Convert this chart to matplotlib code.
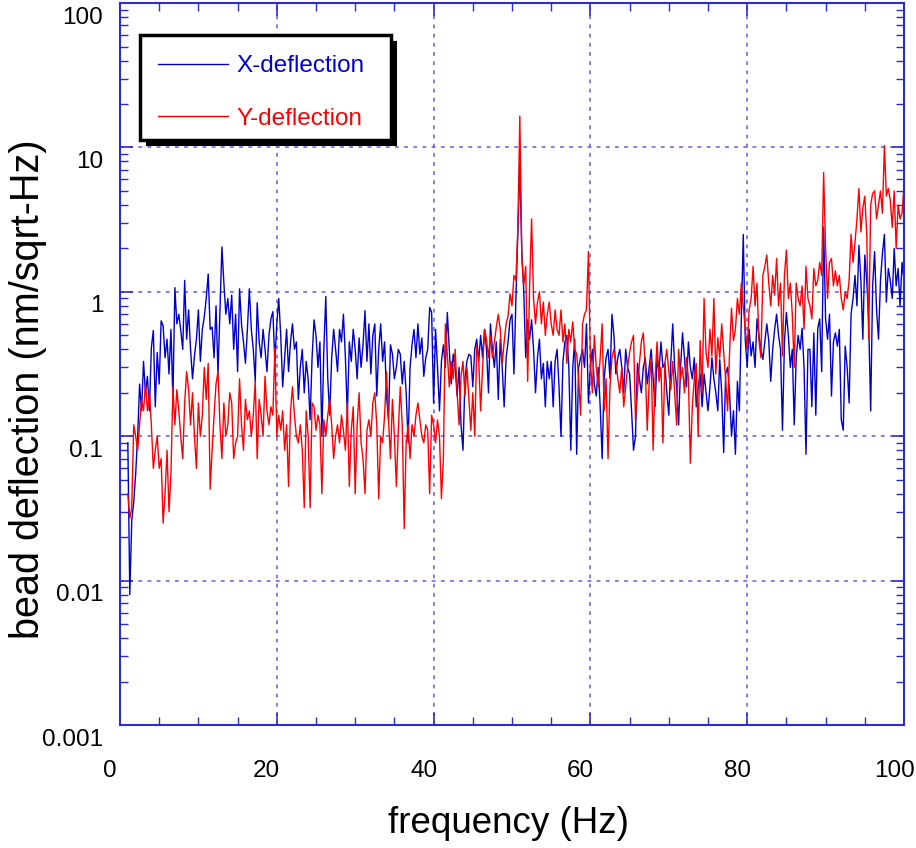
import numpy as np
import matplotlib
matplotlib.use("Agg")
import matplotlib.pyplot as plt
from matplotlib.patches import Rectangle
from matplotlib.transforms import ScaledTranslation
from matplotlib.ticker import FixedLocator, FixedFormatter, LogLocator, MultipleLocator, NullFormatter

# spectrum sampled every 0.25 Hz from 1 to 100 Hz
freq = np.arange(1.0, 100.001, 0.25)

# X-deflection (nm/sqrt-Hz), one row = 5 Hz
x_defl = [
    0.09, 0.008, 0.026, 0.035, 0.055, 0.10, 0.23, 0.15, 0.33, 0.20, 0.26, 0.15, 0.41, 0.54, 0.16, 0.38, 0.23, 0.63, 0.58, 0.35,
    0.47, 0.27, 0.55, 0.18, 1.07, 0.60, 0.70, 0.54, 0.40, 1.20, 0.47, 0.75, 0.40, 0.25, 0.36, 0.47, 0.75, 0.33, 0.55, 0.67,
    0.90, 1.33, 0.55, 0.57, 0.35, 0.80, 0.27, 0.73, 2.05, 1.15, 0.70, 0.90, 0.60, 0.95, 0.40, 0.70, 0.28, 1.05, 0.60, 0.45,
    0.32, 0.55, 1.05, 0.55, 0.40, 0.24, 0.84, 0.45, 0.35, 0.55, 0.40, 0.28, 0.50, 0.65, 0.73, 0.33, 0.60, 0.90, 0.50, 0.22,
    0.35, 0.55, 0.28, 0.45, 0.60, 0.40, 0.45, 0.18, 0.30, 0.40, 0.20, 0.33, 0.25, 0.13, 0.35, 0.64, 0.50, 0.30, 0.45, 0.10,
    0.40, 0.93, 0.25, 0.14, 0.35, 0.55, 0.40, 0.28, 0.55, 0.45, 0.70, 0.35, 0.14, 0.45, 0.33, 0.55, 0.40, 0.25, 0.48, 0.30,
    0.43, 0.74, 0.33, 0.60, 0.27, 0.50, 0.60, 0.19, 0.40, 0.60, 0.33, 0.45, 0.19, 0.13, 0.43, 0.37, 0.25, 0.30, 0.40, 0.37,
    0.23, 0.33, 0.20, 0.09, 0.30, 0.43, 0.55, 0.35, 0.60, 0.37, 0.48, 0.26, 0.35, 0.40, 0.78, 0.72, 0.17, 0.55, 0.30, 0.15,
    0.33, 0.43, 0.30, 0.72, 0.40, 0.23, 0.37, 0.30, 0.19, 0.30, 0.12, 0.08, 0.25, 0.33, 0.37, 0.36, 0.22, 0.40, 0.47, 0.33,
    0.50, 0.35, 0.55, 0.40, 0.20, 0.60, 0.40, 0.30, 0.45, 0.18, 0.47, 0.30, 0.16, 0.35, 0.45, 0.64, 0.70, 0.27, 0.90, 2.6,
    7.7, 1.9, 1.0, 0.35, 0.64, 0.47, 0.64, 0.40, 0.20, 0.35, 0.47, 0.25, 0.32, 0.16, 0.33, 0.25, 0.33, 0.16, 0.33, 0.40,
    0.22, 0.10, 0.33, 0.45, 0.50, 0.30, 0.08, 0.30, 0.47, 0.075, 0.30, 0.35, 0.40, 0.30, 0.60, 0.17, 0.30, 0.40, 0.23, 0.19,
    0.30, 0.16, 0.07, 0.25, 0.35, 0.40, 0.25, 0.70, 0.50, 0.27, 0.35, 0.40, 0.30, 0.20, 0.40, 0.30, 0.27, 0.15, 0.08, 0.10,
    0.32, 0.25, 0.20, 0.30, 0.35, 0.23, 0.30, 0.40, 0.25, 0.16, 0.35, 0.28, 0.45, 0.30, 0.32, 0.20, 0.14, 0.32, 0.60, 0.30,
    0.22, 0.12, 0.30, 0.52, 0.35, 0.22, 0.45, 0.30, 0.25, 0.35, 0.16, 0.22, 0.27, 0.16, 0.27, 0.20, 0.15, 0.22, 0.35, 0.25,
    0.20, 0.15, 0.34, 0.20, 0.077, 0.27, 0.30, 0.20, 0.10, 0.15, 0.075, 0.24, 0.15, 0.65, 2.5, 0.47, 0.30, 0.55, 0.36, 0.45,
    0.30, 0.65, 0.50, 0.40, 0.34, 0.45, 0.60, 0.46, 0.24, 0.40, 0.55, 0.70, 0.50, 0.40, 0.11, 0.45, 0.72, 0.50, 0.30, 0.40,
    0.12, 0.35, 0.50, 0.40, 0.56, 0.30, 0.075, 0.40, 0.40, 0.16, 0.52, 0.14, 0.56, 0.65, 0.28, 2.8, 0.65, 0.47, 0.70, 0.19,
    0.45, 0.52, 0.42, 0.55, 0.13, 0.11, 0.42, 0.30, 0.17, 0.70, 0.90, 1.3, 0.80, 2.1, 1.2, 0.47, 1.8, 1.2, 0.60, 0.15,
    1.1, 1.9, 0.75, 0.47, 1.2, 1.85, 2.5, 0.85, 1.45, 1.2, 0.90, 2.0, 1.1, 1.45, 0.80, 1.6, 1.2,
]

# Y-deflection (nm/sqrt-Hz)
y_defl = [
    0.04, 0.027, 0.032, 0.12, 0.10, 0.08, 0.12, 0.18, 0.15, 0.23, 0.15, 0.20, 0.12, 0.06, 0.08, 0.10, 0.06, 0.07, 0.025, 0.04,
    0.08, 0.03, 0.055, 0.22, 0.12, 0.21, 0.15, 0.10, 0.07, 0.17, 0.28, 0.21, 0.12, 0.20, 0.10, 0.06, 0.17, 0.10, 0.14, 0.30,
    0.18, 0.32, 0.043, 0.08, 0.14, 0.23, 0.28, 0.12, 0.07, 0.17, 0.10, 0.12, 0.20, 0.17, 0.07, 0.09, 0.10, 0.25, 0.12, 0.08,
    0.18, 0.13, 0.15, 0.10, 0.14, 0.24, 0.07, 0.18, 0.14, 0.10, 0.26, 0.15, 0.12, 0.16, 0.14, 0.41, 0.10, 0.14, 0.11, 0.15,
    0.08, 0.12, 0.045, 0.15, 0.22, 0.14, 0.10, 0.09, 0.12, 0.08, 0.032, 0.15, 0.10, 0.032, 0.17, 0.16, 0.11, 0.14, 0.12, 0.04,
    0.13, 0.10, 0.14, 0.18, 0.12, 0.07, 0.10, 0.12, 0.09, 0.14, 0.11, 0.08, 0.17, 0.045, 0.11, 0.16, 0.04, 0.12, 0.20, 0.09,
    0.07, 0.04, 0.11, 0.13, 0.10, 0.17, 0.20, 0.12, 0.037, 0.10, 0.09, 0.14, 0.28, 0.13, 0.07, 0.18, 0.10, 0.045, 0.11, 0.22,
    0.12, 0.023, 0.09, 0.12, 0.07, 0.12, 0.10, 0.14, 0.17, 0.13, 0.10, 0.09, 0.12, 0.11, 0.04, 0.14, 0.12, 0.09, 0.13, 0.10,
    0.037, 0.07, 0.60, 0.37, 0.22, 0.33, 0.25, 0.40, 0.20, 0.12, 0.26, 0.33, 0.19, 0.30, 0.18, 0.11, 0.20, 0.10, 0.42, 0.35,
    0.15, 0.30, 0.55, 0.47, 0.35, 0.50, 0.35, 0.45, 0.57, 0.70, 0.55, 0.32, 0.45, 0.60, 0.68, 0.97, 0.80, 1.3, 1.2, 2.8,
    16.5, 1.75, 1.1, 1.5, 0.24, 1.1, 3.2, 0.9, 0.6, 0.85, 1.0, 0.6, 0.85, 0.5, 0.7, 0.85, 0.6, 0.5, 0.75, 0.55,
    0.5, 0.75, 0.45, 0.6, 0.32, 0.55, 0.45, 0.62, 0.40, 0.37, 0.25, 0.14, 0.6, 0.7, 0.75, 1.9, 0.33, 0.2, 0.5, 0.3,
    0.22, 0.35, 0.6, 0.15, 0.25, 0.07, 0.22, 0.35, 0.4, 0.33, 0.25, 0.2, 0.3, 0.16, 0.22, 0.3, 0.38, 0.45, 0.5, 0.13,
    0.2, 0.32, 0.45, 0.52, 0.3, 0.11, 0.24, 0.35, 0.08, 0.25, 0.45, 0.24, 0.3, 0.09, 0.32, 0.4, 0.28, 0.21, 0.33, 0.2,
    0.12, 0.4, 0.25, 0.3, 0.2, 0.35, 0.25, 0.065, 0.16, 0.25, 0.32, 0.1, 0.46, 0.2, 0.9, 0.38, 0.3, 0.55, 0.36, 0.9,
    0.27, 0.48, 0.35, 0.6, 0.38, 0.25, 0.15, 0.38, 0.77, 0.46, 0.55, 0.9, 0.7, 1.15, 0.8, 0.55, 0.4, 0.75, 0.9, 1.5,
    0.8, 1.15, 0.46, 0.35, 1.3, 1.5, 1.8, 1.15, 0.8, 1.3, 0.95, 1.7, 0.8, 1.15, 0.36, 1.3, 1.95, 0.9, 1.15, 0.7,
    0.3, 1.15, 0.9, 0.8, 1.1, 0.55, 1.5, 0.9, 0.8, 0.65, 1.45, 1.1, 1.2, 1.6, 1.3, 6.7, 2.0, 0.9, 1.6, 1.7,
    1.1, 1.4, 1.1, 1.3, 0.9, 0.75, 1.0, 0.9, 1.2, 2.5, 1.6, 2.2, 3.2, 5.2, 2.6, 3.8, 4.6, 2.5, 0.47, 4.0,
    4.8, 5.0, 3.2, 4.0, 5.0, 3.5, 10.3, 4.6, 5.2, 4.3, 2.8, 5.0, 2.0, 4.0, 3.2, 3.5, 5.5,
]

y_ticks = [0.001, 0.01, 0.1, 1, 10, 100]
y_tick_labels = ["0.001", "0.01", "0.1", "1", "10", "100"]
x_ticks = [0, 20, 40, 60, 80, 100]

BLUE = "#0000cc"
RED = "#ff0000"
AXIS_BLUE = "#2b2bd0"
GRID_BLUE = "#5c5ce0"

plt.rcParams["font.family"] = ["Liberation Sans", "DejaVu Sans"]

fig = plt.figure(figsize=(9.16, 8.48), dpi=100)
ax = fig.add_axes([0.1310, 0.1450, 0.8559, 0.8514])

ax.plot(freq, x_defl, color=BLUE, lw=1.0, label="X-deflection", zorder=2)
ax.plot(freq, y_defl, color=RED, lw=1.0, label="Y-deflection", zorder=2)

ax.set_yscale("log")
ax.set_xlim(0, 100)
ax.set_ylim(1e-3, 1e2)

ax.xaxis.set_major_locator(FixedLocator(x_ticks))
ax.xaxis.set_minor_locator(MultipleLocator(5))
ax.yaxis.set_major_locator(FixedLocator(y_ticks))
ax.yaxis.set_major_formatter(FixedFormatter(y_tick_labels))
ax.yaxis.set_minor_locator(LogLocator(base=10, subs=range(2, 10), numticks=20))
ax.yaxis.set_minor_formatter(NullFormatter())

ax.grid(True, which="major", color=GRID_BLUE, linestyle=(0, (2.5, 3.5)), linewidth=1.1)

for sp in ax.spines.values():
    sp.set_color(AXIS_BLUE)
    sp.set_linewidth(1.5)

ax.tick_params(which="both", direction="in", top=True, right=True, color=AXIS_BLUE,
               labelcolor="black", labelsize=17.5)
ax.tick_params(which="major", length=9, width=1.2)
ax.tick_params(which="minor", length=6, width=1.0)
ax.tick_params(axis="x", pad=25)
ax.tick_params(axis="y", pad=12)

ax.set_xlabel("frequency (Hz)", fontsize=26.5)
ax.set_ylabel("bead deflection (nm/sqrt-Hz)", fontsize=28.5)
ax.xaxis.set_label_coords(0.495, -0.136)
ax.xaxis.label.set_verticalalignment("center")
ax.yaxis.set_label_coords(-0.117, 0.465)
ax.yaxis.label.set_verticalalignment("center")

# legend box with a solid drop shadow
ax.add_patch(Rectangle((0.0332, 0.8019), 0.3201, 0.1455, transform=ax.transAxes,
                       facecolor="black", edgecolor="none", zorder=4.5))
ax.add_patch(Rectangle((0.0255, 0.8102), 0.3202, 0.1455, transform=ax.transAxes,
                       facecolor="white", edgecolor="black", linewidth=2.5, zorder=4.6))
leg = ax.legend(loc="upper left", bbox_to_anchor=(0.0485, 0.928), frameon=False,
                borderpad=0, borderaxespad=0, fontsize=17.5, handlelength=2.88,
                handletextpad=0.33, labelspacing=1.27, labelcolor="linecolor")
leg.set_zorder(5)

# the original software draws tick labels slightly shifted
dx = ScaledTranslation(-0.10, 0, fig.dpi_scale_trans)
dy = ScaledTranslation(0, -0.12, fig.dpi_scale_trans)
for lab in ax.get_xticklabels():
    lab.set_transform(lab.get_transform() + dx)
for lab in ax.get_yticklabels():
    lab.set_transform(lab.get_transform() + dy)

fig.savefig("out.png", dpi=100)
